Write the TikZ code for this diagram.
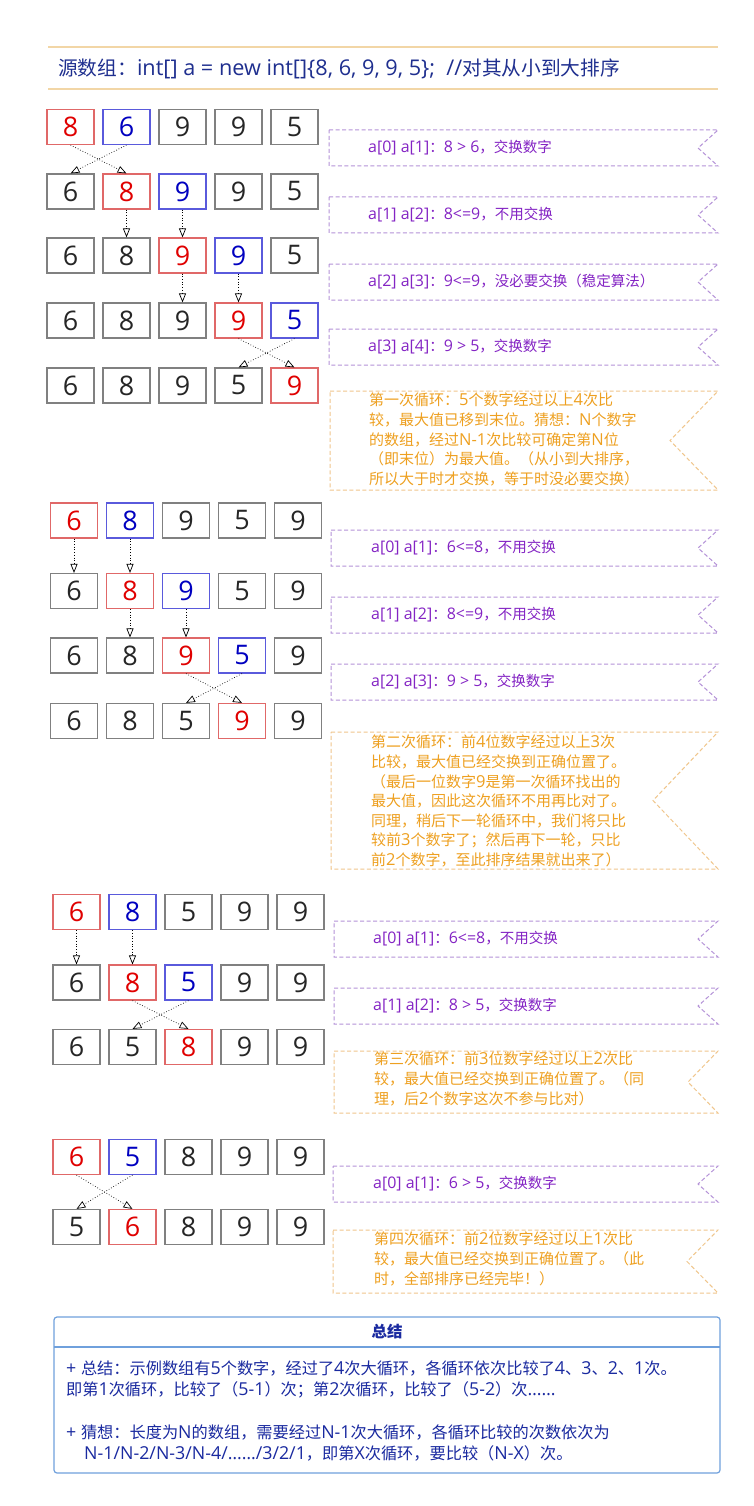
\documentclass[tikz,border=0pt]{standalone}
\usepackage{fontspec}
\setmainfont{Open Sans}[Scale=1.1]
\newfontfamily\latf{Open Sans}[Scale=1.1]
\newfontfamily\cjkf{Noto Sans CJK SC}
\XeTeXinterchartokenstate=1
\newXeTeXintercharclass\cjkcls
\newcount\mycnt
\def\setcls#1#2{\mycnt=#1 \loop \XeTeXcharclass\mycnt=\cjkcls \ifnum\mycnt<#2 \advance\mycnt by 1 \repeat}
\setcls{"3000}{"303F}
\setcls{"4E00}{"9FFF}
\setcls{"FF00}{"FFEF}
\XeTeXcharclass"2026=0
\XeTeXinterchartoks 0 \cjkcls = {\cjkf}
\XeTeXinterchartoks 4095 \cjkcls = {\cjkf}
\XeTeXinterchartoks \cjkcls 0 = {\latf}
\XeTeXinterchartoks \cjkcls 4095 = {\latf}
\usetikzlibrary{arrows.meta}
\definecolor{hdrline}{HTML}{F2D6A6}
\definecolor{hdrtxt}{HTML}{1F2F8F}
\definecolor{gline}{HTML}{808080}
\definecolor{gtxt}{HTML}{262626}
\definecolor{rline}{HTML}{E06868}
\definecolor{rtxt}{HTML}{E00000}
\definecolor{bline}{HTML}{5A5ADC}
\definecolor{btxt}{HTML}{0000C0}
\definecolor{pline}{HTML}{B592D8}
\definecolor{ptxt}{HTML}{8424C4}
\definecolor{oline}{HTML}{F0C68C}
\definecolor{otxt}{HTML}{EEA020}
\definecolor{sline}{HTML}{6FA0DC}
\definecolor{stxt}{HTML}{1A2AA0}
\tikzset{
  cell/.style={minimum width=47pt,minimum height=35pt,inner sep=0pt,line width=1.2pt,
     font=\fontsize{24.5}{25}\selectfont},
  gbox/.style={cell,draw=gline,text=gtxt},
  rbox/.style={cell,draw=rline,text=rtxt},
  bbox/.style={cell,draw=bline,text=btxt},
  swap/.style={dotted,line width=0.7pt,-{Triangle[open,length=9pt,width=7pt]}},
  pcall/.style={draw=pline,line width=1pt,dash pattern=on 4pt off 2.5pt},
  ocall/.style={draw=oline,line width=1pt,dash pattern=on 4pt off 2.5pt},
  ptext/.style={anchor=west,inner sep=0pt,text=ptxt,font=\fontsize{14.5}{16}\selectfont},
  otext/.style={anchor=north west,inner sep=0pt,text=otxt,align=left,
     font=\fontsize{15}{19.6}\selectfont},
  stext/.style={anchor=west,inner sep=0pt,text=stxt,font=\fontsize{16.2}{20}\selectfont},
}
\newcommand\arow[4]{%
  \foreach \st/\v [count=\i] in {#4} {\node[\st] (#1-\i) at ({#2+(\i-1)*56},#3) {\v};}}
% callout shape: #1 style, #2 left, #3 top, #4 bottom, #5 notch x
\newcommand\callshape[5]{%
  \draw[#1] (#2,#3) -- (718,#3) -- (#5,{(#3+#4)/2}) -- (718,#4) -- (#2,#4) -- cycle;}
\begin{document}
\begin{tikzpicture}[x=1pt,y=-1pt]
\useasboundingbox[fill=white] (0,0) rectangle (753,1506);
% header
\coordinate (h1a) at (48,47); \coordinate (h1b) at (718,47);
\coordinate (h2a) at (48,89); \coordinate (h2b) at (718,89);
\draw[hdrline,line width=1.3pt] (h1a) -- (h1b);
\draw[hdrline,line width=1.3pt] (h2a) -- (h2b);
\node[anchor=west,inner sep=0pt,text=hdrtxt,font=\fontsize{19.7}{22}\selectfont] (hdr) at (58,69)
  {源数组：int[] a = new int[]\{8, 6, 9, 9, 5\};\ \ //对其从小到大排序};

% ---------- section 1 ----------
\arow{s1a}{70.5}{127}{rbox/8,bbox/6,gbox/9,gbox/9,gbox/5}
\arow{s1b}{70.5}{191.5}{gbox/6,rbox/8,bbox/9,gbox/9,gbox/5}
\arow{s1c}{70.5}{255.5}{gbox/6,gbox/8,rbox/9,bbox/9,gbox/5}
\arow{s1d}{70.5}{320.5}{gbox/6,gbox/8,gbox/9,rbox/9,bbox/5}
\arow{s1e}{70.5}{385.5}{gbox/6,gbox/8,gbox/9,gbox/5,rbox/9}
\draw[swap] (s1a-1.south) -- (s1b-2.north);
\draw[swap] (s1a-2.south) -- (s1b-1.north);
\draw[swap] (s1b-2.south) -- (s1c-2.north);
\draw[swap] (s1b-3.south) -- (s1c-3.north);
\draw[swap] (s1c-3.south) -- (s1d-3.north);
\draw[swap] (s1c-4.south) -- (s1d-4.north);
\draw[swap] (s1d-4.south) -- (s1e-5.north);
\draw[swap] (s1d-5.south) -- (s1e-4.north);
\callshape{pcall}{329}{130}{166}{698}
\node[ptext] (c11) at (368,148) {a[0] a[1]：8 > 6，交换数字};
\callshape{pcall}{329}{197}{233}{698}
\node[ptext] (c12) at (368,215) {a[1] a[2]：8<=9，不用交换};
\callshape{pcall}{329}{264}{300}{698}
\node[ptext] (c13) at (368,282) {a[2] a[3]：9<=9，没必要交换（稳定算法）};
\callshape{pcall}{329}{329}{365}{698}
\node[ptext] (c14) at (368,347) {a[3] a[4]：9 > 5，交换数字};
\callshape{ocall}{330}{391}{490}{670}
\node[otext] (c15) at (369,393) {第一次循环：5个数字经过以上4次比\\较，最大值已移到末位。猜想：N个数字\\的数组，经过N-1次比较可确定第N位\\（即末位）为最大值。（从小到大排序，\\所以大于时才交换，等于时没必要交换）};

% ---------- section 2 ----------
\arow{s2a}{74}{520.5}{rbox/6,bbox/8,gbox/9,gbox/5,gbox/9}
\arow{s2b}{74}{591}{gbox/6,rbox/8,bbox/9,gbox/5,gbox/9}
\arow{s2c}{74}{655.5}{gbox/6,gbox/8,rbox/9,bbox/5,gbox/9}
\arow{s2d}{74}{721}{gbox/6,gbox/8,gbox/5,rbox/9,gbox/9}
\draw[swap] (s2a-1.south) -- (s2b-1.north);
\draw[swap] (s2a-2.south) -- (s2b-2.north);
\draw[swap] (s2b-2.south) -- (s2c-2.north);
\draw[swap] (s2b-3.south) -- (s2c-3.north);
\draw[swap] (s2c-3.south) -- (s2d-4.north);
\draw[swap] (s2c-4.south) -- (s2d-3.north);
\callshape{pcall}{331}{530}{566}{698}
\node[ptext] (c21) at (371,548) {a[0] a[1]：6<=8，不用交换};
\callshape{pcall}{331}{597}{633}{698}
\node[ptext] (c22) at (371,615) {a[1] a[2]：8<=9，不用交换};
\callshape{pcall}{331}{664}{700}{698}
\node[ptext] (c23) at (371,682) {a[2] a[3]：9 > 5，交换数字};
\callshape{ocall}{331}{732}{869}{653}
\node[otext] (c24) at (371,735) {第二次循环：前4位数字经过以上3次\\比较，最大值已经交换到正确位置了。\\（最后一位数字9是第一次循环找出的\\最大值，因此这次循环不用再比对了。\\同理，稍后下一轮循环中，我们将只比\\较前3个数字了；然后再下一轮，只比\\前2个数字，至此排序结果就出来了）};

% ---------- section 3 ----------
\arow{s3a}{76.5}{912}{rbox/6,bbox/8,gbox/5,gbox/9,gbox/9}
\arow{s3b}{76.5}{982.5}{gbox/6,rbox/8,bbox/5,gbox/9,gbox/9}
\arow{s3c}{76.5}{1047}{gbox/6,gbox/5,rbox/8,gbox/9,gbox/9}
\draw[swap] (s3a-1.south) -- (s3b-1.north);
\draw[swap] (s3a-2.south) -- (s3b-2.north);
\draw[swap] (s3b-2.south) -- (s3c-3.north);
\draw[swap] (s3b-3.south) -- (s3c-2.north);
\callshape{pcall}{334}{921}{957}{698}
\node[ptext] (c31) at (373,939) {a[0] a[1]：6<=8，不用交换};
\callshape{pcall}{334}{988}{1024}{698}
\node[ptext] (c32) at (373,1006) {a[1] a[2]：8 > 5，交换数字};
\callshape{ocall}{334}{1051}{1113}{688}
\node[otext] (c33) at (374,1052) {第三次循环：前3位数字经过以上2次比\\较，最大值已经交换到正确位置了。（同\\理，后2个数字这次不参与比对）};

% ---------- section 4 ----------
\arow{s4a}{76.5}{1157}{rbox/6,bbox/5,gbox/8,gbox/9,gbox/9}
\arow{s4b}{76.5}{1227}{gbox/5,rbox/6,gbox/8,gbox/9,gbox/9}
\draw[swap] (s4a-1.south) -- (s4b-2.north);
\draw[swap] (s4a-2.south) -- (s4b-1.north);
\callshape{pcall}{333}{1166}{1202}{698}
\node[ptext] (c41) at (373,1184) {a[0] a[1]：6 > 5，交换数字};
\callshape{ocall}{333}{1230}{1293}{687}
\node[otext] (c42) at (374,1232) {第四次循环：前2位数字经过以上1次比\\较，最大值已经交换到正确位置了。（此\\时，全部排序已经完毕！）};

% ---------- summary ----------
\draw[sline,line width=1.2pt,rounded corners=3pt] (54,1317) rectangle (720,1473);
\coordinate (sepa) at (54,1347); \coordinate (sepb) at (720,1347);
\draw[sline,line width=1.2pt] (sepa) -- (sepb);
\node[text=stxt,font=\fontsize{15.5}{18}\selectfont\bfseries] (stitle) at (387,1332) {总结};
\node[stext] (s1) at (66,1368) {+ 总结：示例数组有5个数字，经过了4次大循环，各循环依次比较了4、3、2、1次。};
\node[stext] (s2) at (66,1390) {即第1次循环，比较了（5-1）次；第2次循环，比较了（5-2）次……};
\node[stext] (s3) at (66,1432) {+ 猜想：长度为N的数组，需要经过N-1次大循环，各循环比较的次数依次为};
\node[stext] (s4) at (84,1453) {N-1/N-2/N-3/N-4/……/3/2/1，即第X次循环，要比较（N-X）次。};
\end{tikzpicture}
\end{document}
